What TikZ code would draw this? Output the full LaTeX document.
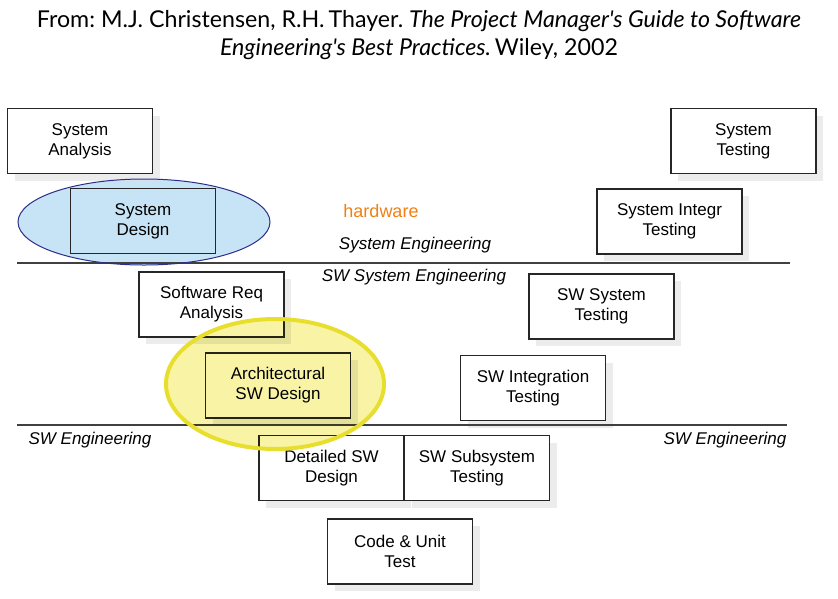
\documentclass[tikz,border=0pt]{standalone}
\usepackage{fontspec}
\setmainfont{Liberation Sans}
\newfontfamily\titlefont{Lato}
\usetikzlibrary{shadows}
\frenchspacing

\definecolor{hworange}{RGB}{240,128,20}
\definecolor{sdblue}{RGB}{198,228,246}
\definecolor{sdedge}{RGB}{45,45,140}
\definecolor{adyellow}{RGB}{249,244,165}
\definecolor{adedge}{RGB}{232,222,45}

\tikzset{
  phaseplain/.style={draw=black!85, line width=1.1pt, align=center,
    minimum width=145pt, minimum height=65pt, inner sep=2pt,
    font=\fontsize{17}{20}\selectfont},
  phase/.style={phaseplain, fill=white,
    drop shadow={shadow xshift=7pt, shadow yshift=-7pt, fill=gray!25, opacity=0.6}},
  level/.style={font=\fontsize{17}{20}\selectfont\itshape},
  divider/.style={line width=1.4pt, black!75}
}

\begin{document}
\begin{tikzpicture}[x=1pt, y=-1pt]
            \useasboundingbox (0,0) rectangle (838,598);

            % source of the picture
            \node[align=center, font=\fontsize{23.2}{28}\selectfont\titlefont] (src) at (419,35)
              {From: M.J. Christensen, R.H.\,Thayer. \textit{The Project Manager's Guide to Software}\\
               \textit{Engineering's Best Practices.}\,Wiley, 2002};

            % blue highlight behind System Design
            \fill[sdblue] (144,222) ellipse [x radius=126, y radius=43];

            % left leg of the V
            \node[phase] (sa) at (80,141) {System\\Analysis};
            \node[phaseplain] (sd) at (143,221) {System\\Design};
            \node[phase] (sra) at (211.5,304.5) {Software Req\\Analysis};
            \node[phase] (asd) at (278,385.5) {Architectural\\SW Design};
            \node[phase] (dsd) at (331.5,468) {Detailed SW\\Design};

            % bottom
            \node[phase] (cut) at (400,551.5) {Code \& Unit\\Test};

            % right leg of the V
            \node[phase] (sss) at (477,468) {SW Subsystem\\Testing};
            \node[phase] (sitg) at (533,388) {SW Integration\\Testing};
            \node[phase] (sst) at (601.5,306.5) {SW System\\Testing};
            \node[phase] (sit) at (669.5,221.5) {System Integr\\Testing};
            \node[phase] (st) at (743.5,141) {System\\Testing};

            % levels
            \coordinate (L1) at (17,263);
            \coordinate (R1) at (790,263);
            \coordinate (L2) at (17,425);
            \coordinate (R2) at (787,425);
            \draw[divider] (L1) -- (R1);
            \draw[divider] (L2) -- (R2);

            \node[text=hworange, font=\fontsize{18}{20}\selectfont] (hw) at (381,211) {hardware};
            \node[level] (syseng) at (415,245) {System Engineering};
            \node[level] (swsyseng) at (414,277) {SW System Engineering};
            \node[level] (sweng1) at (90,440) {SW Engineering};
            \node[level] (sweng2) at (725,440) {SW Engineering};

            % highlights
            \draw[sdedge, line width=1pt] (144,222) ellipse [x radius=126, y radius=43];
            \fill[adyellow, blend mode=multiply] (275,384) ellipse [x radius=109, y radius=65];
            \draw[adedge, line width=4pt] (275,384) ellipse [x radius=109, y radius=65];
        \end{tikzpicture}
\end{document}
